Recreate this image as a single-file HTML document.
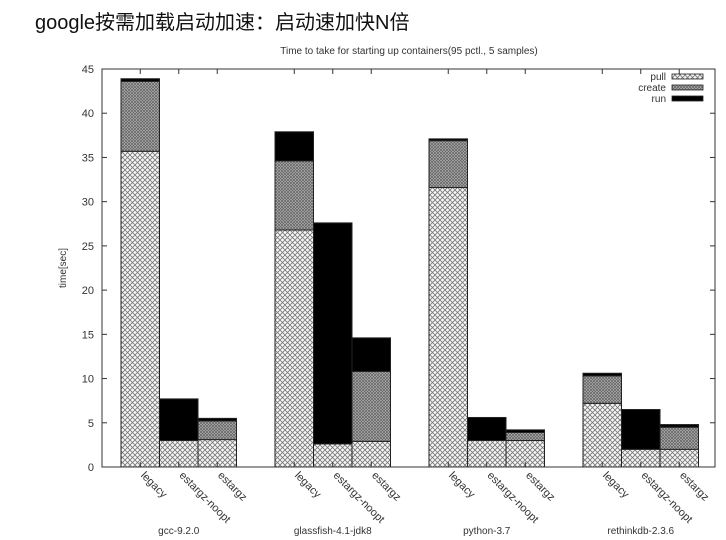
<!DOCTYPE html>
<html><head><meta charset="utf-8"><style>
body{margin:0;background:#fff;width:726px;height:540px;overflow:hidden}
svg{display:block}
text{font-family:"Liberation Sans",sans-serif;fill:#333}
</style></head><body>
<svg id="chart" width="726" height="540">
<defs>
<pattern id="pPull" width="5" height="5" patternUnits="userSpaceOnUse">
<rect width="5" height="5" fill="#f6f6f6"/><path d="M0 0L5 5M5 0L0 5" stroke="#777" stroke-width="0.8"/></pattern>
<pattern id="pCreate" width="3" height="3" patternUnits="userSpaceOnUse">
<rect width="3" height="3" fill="#bbb"/><path d="M0 0L3 3M3 0L0 3" stroke="#666" stroke-width="0.8"/></pattern>
</defs>
<text x="35" y="29" font-size="20" style="font-family:'Liberation Sans','Noto Sans CJK SC',sans-serif;fill:#111">google按需加载启动加速：启动速加快N倍</text>
<text x="409" y="54" font-size="10" text-anchor="middle">Time to take for starting up containers(95 pctl., 5 samples)</text>
<text transform="translate(66,268) rotate(-90)" font-size="10" text-anchor="middle">time[sec]</text>
<g id="plot"></g>
</svg>
<script>
const groups=["gcc-9.2.0","glassfish-4.1-jdk8","python-3.7","rethinkdb-2.3.6"];
const variants=["legacy","estargz-noopt","estargz"];
const pull=[35.7,3.0,3.1, 26.8,2.6,2.9, 31.6,3.0,3.0, 7.2,2.0,2.0];
const create=[7.9,0,2.1, 7.8,0,7.9, 5.3,0,0.9, 3.1,0,2.5];
const run=[0.3,4.7,0.3, 3.3,25.0,3.8, 0.2,2.6,0.3, 0.3,4.5,0.3];
const yTicks=[0,5,10,15,20,25,30,35,40,45];
const NS="http://www.w3.org/2000/svg";
const L=102,R=715,T=69,B=467,yMax=45;
const y=v=>B-(v/yMax)*(B-T);
const groupW=154,barW=38.5,g0=121;
const xBar=i=>g0+Math.floor(i/3)*groupW+(i%3)*barW;
const plot=document.getElementById('plot');
function mk(tag,attrs){const e=document.createElementNS(NS,tag);for(const k in attrs)e.setAttribute(k,attrs[k]);plot.appendChild(e);return e;}
pull.forEach((p,i)=>{
  const x=xBar(i);let base=0;
  const segs=[[p,'url(#pPull)','pull'],[create[i],'url(#pCreate)','create'],[run[i],'#000','run']];
  segs.forEach(([v,f,n])=>{
    if(v<=0)return;
    const r=mk('rect',{x:x,y:y(base+v),width:barW,height:y(base)-y(base+v),fill:f,stroke:'#222','stroke-width':1});
    
    
    base+=v;
  });
  const t=mk('text',{transform:`translate(${x+barW/2},${B+9}) rotate(45)`,'font-size':11});
  t.textContent=variants[i%3];
  
  
  mk('line',{x1:x+barW/2,x2:x+barW/2,y1:B,y2:B-5,stroke:'#333'});
  mk('line',{x1:x+barW/2,x2:x+barW/2,y1:T,y2:T+5,stroke:'#333'});
});
groups.forEach((g,j)=>{
  const t=mk('text',{x:g0+j*groupW+barW*1.5,y:534,'font-size':10,'text-anchor':'middle'});
  t.textContent=g;
  
  
});
yTicks.forEach(v=>{
  mk('line',{x1:L,x2:L+5,y1:y(v),y2:y(v),stroke:'#333'});
  mk('line',{x1:R,x2:R-5,y1:y(v),y2:y(v),stroke:'#333'});
  const t=mk('text',{x:L-8,y:y(v)+4,'font-size':11,'text-anchor':'end'});
  t.textContent=v;
  
  
});
const fr=mk('rect',{x:L,y:T,width:R-L,height:B-T,fill:'none',stroke:'#333','stroke-width':1});


[['pull','url(#pPull)'],['create','url(#pCreate)'],['run','#000']].forEach(([n,f],k)=>{
  const ly=80+k*11;
  const t=mk('text',{x:666,y:ly,'font-size':10,'text-anchor':'end'});
  t.textContent=n;
  
  
  mk('rect',{x:672,y:ly-6,width:31,height:5,fill:f,stroke:'#222','stroke-width':0.8});
});
</script>
</body></html>
